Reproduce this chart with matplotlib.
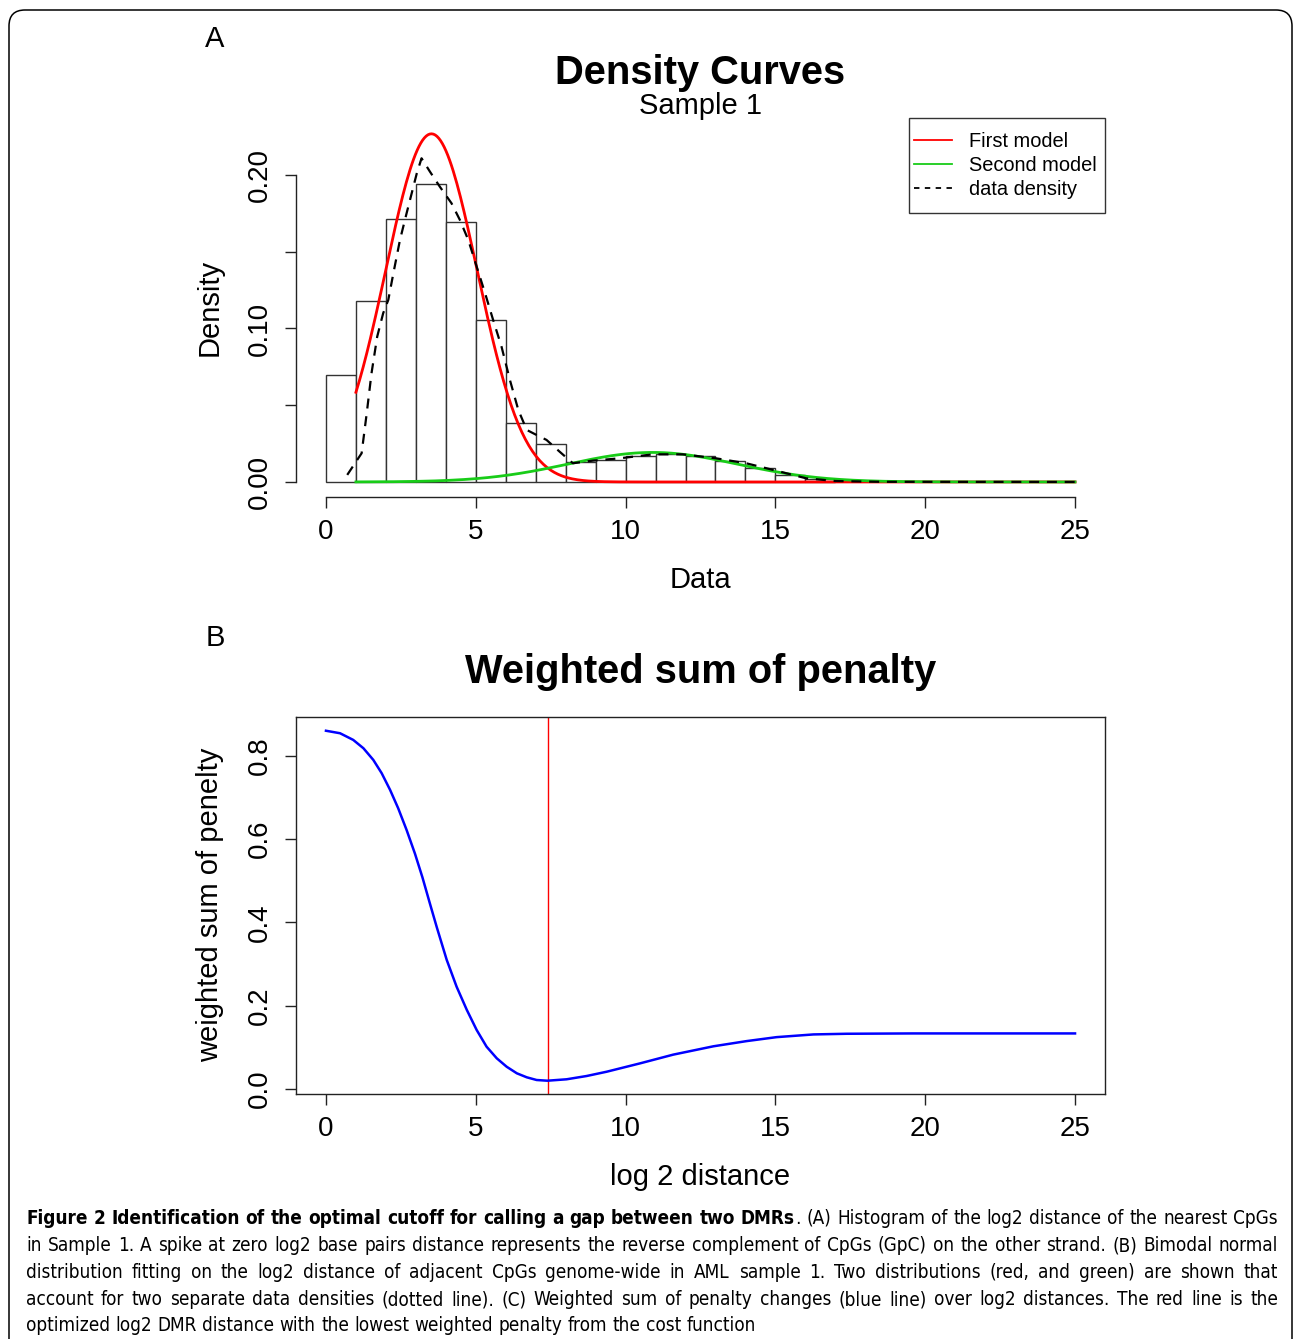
import matplotlib
matplotlib.use('Agg')
import matplotlib.pyplot as plt
from matplotlib.patches import FancyBboxPatch, Rectangle
from matplotlib.transforms import IdentityTransform
from matplotlib.lines import Line2D
import numpy as np

plt.rcParams['font.family'] = ['Liberation Sans', 'DejaVu Sans']

# ---- panel A: histogram of log2 distances (bin width 1) ----
hist_left = list(range(0, 17))
hist_density = [0.0697, 0.118, 0.1715, 0.194, 0.1696, 0.1055, 0.0386, 0.0246,
                0.013, 0.0146, 0.0168, 0.0184, 0.0169, 0.0135, 0.0089, 0.0048, 0.0018]

# fitted normal components: weight, mean, sd
first_model = (0.870, 3.52, 1.53)
second_model = (0.136, 10.9, 2.82)
model_x_range = (1, 25)

# kernel density of the data (dashed line)
dens_x = [0.71, 1.19, 1.36, 1.52, 1.71, 1.91, 2.08, 2.25, 2.47, 2.69, 2.86, 3.03, 3.19,
          3.47, 3.80, 4.19, 4.47, 4.75, 5.03, 5.31, 5.58, 5.86, 6.14, 6.42, 6.70, 7.03,
          7.36, 7.8, 8.24, 8.91, 9.8, 10.91, 11.91, 13.02, 14.02, 15.02, 16.02, 17.0,
          18.5, 25.0]
dens_y = [0.0046, 0.0187, 0.0447, 0.0708, 0.0947, 0.110, 0.1186, 0.136, 0.1577, 0.175,
          0.188, 0.201, 0.2109, 0.2022, 0.1924, 0.1816, 0.1707, 0.1577, 0.1403, 0.123,
          0.1055, 0.0881, 0.0664, 0.0469, 0.0339, 0.0306, 0.0274, 0.0197, 0.0122,
          0.0139, 0.0154, 0.018, 0.018, 0.0154, 0.0122, 0.0074, 0.0024, 0.0006,
          0.0001, 0.0]

# ---- panel B: weighted sum of penalty ----
pen_x = [0, 0.47, 0.91, 1.25, 1.58, 1.86, 2.14, 2.41, 2.69, 2.97, 3.22, 3.47, 3.70,
         4.03, 4.36, 4.70, 5.03, 5.36, 5.70, 6.03, 6.37, 6.70, 7.03, 7.39, 8.03, 8.70,
         9.37, 10.48, 11.59, 12.93, 14.04, 15.04, 16.27, 17.38, 19.6, 25]
pen_y = [0.860, 0.854, 0.838, 0.818, 0.790, 0.758, 0.718, 0.674, 0.622, 0.565, 0.508,
         0.445, 0.388, 0.310, 0.2456, 0.190, 0.1416, 0.1016, 0.0737, 0.0535, 0.0377,
         0.0281, 0.0216, 0.0199, 0.0233, 0.0312, 0.0415, 0.0615, 0.0825, 0.1025,
         0.115, 0.1245, 0.131, 0.1326, 0.1334, 0.1334]
cutoff = 7.4

caption_lines = [
    [("Figure 2 Identification of the optimal cutoff for calling a gap between two DMRs", True),
     (". (A) Histogram of the log2 distance of the nearest CpGs", False)],
    [("in Sample 1. A spike at zero log2 base pairs distance represents the reverse complement "
      "of CpGs (GpC) on the other strand. (B) Bimodal normal", False)],
    [("distribution fitting on the log2 distance of adjacent CpGs genome-wide in AML sample 1. "
      "Two distributions (red, and green) are shown that", False)],
    [("account for two separate data densities (dotted line). (C) Weighted sum of penalty "
      "changes (blue line) over log2 distances. The red line is the", False)],
    [("optimized log2 DMR distance with the lowest weighted penalty from the cost function", False)],
]

W, H = 1293, 1339
fig = plt.figure(figsize=(W / 100, H / 100), dpi=100)


def fx(px):
    return px / W


def fy(py):
    return 1 - py / H


AX_COL = '#222222'
TICK_FS = 20
LABEL_FS = 21
TITLE_FS = 28.7

# outer rounded frame
frame = FancyBboxPatch((9, -30), 1283, H - 10 + 30, boxstyle='round,pad=0,rounding_size=16',
                       transform=IdentityTransform(), fill=False, lw=1.1, ec='black')
fig.patches.append(frame)

# ---------------- panel A ----------------
axA = fig.add_axes([fx(296), fy(497), fx(1105) - fx(296), fy(119) - fy(497)])
axA.bar(hist_left, hist_density, width=1, align='edge', color='white',
        edgecolor='#333333', lw=1.0, zorder=1)

xm = np.linspace(model_x_range[0], model_x_range[1], 400)


def normal_curve(params):
    w, mu, sd = params
    return w * np.exp(-(xm - mu) ** 2 / (2 * sd ** 2)) / (sd * np.sqrt(2 * np.pi))


axA.plot(xm, normal_curve(first_model), color='#FF0000', lw=2.0, zorder=3)
axA.plot(xm, normal_curve(second_model), color='#18CC18', lw=2.0, zorder=3)
axA.plot(dens_x, dens_y, color='black', lw=1.6, ls=(0, (4.5, 3.5)), zorder=4)

axA.set_xlim(-1, 26)
axA.set_ylim(-0.0098, 0.2365)
for s in ['top', 'right']:
    axA.spines[s].set_visible(False)
axA.spines['bottom'].set_bounds(0, 25)
axA.spines['left'].set_bounds(0, 0.2)
for s in ['bottom', 'left']:
    axA.spines[s].set_color(AX_COL)
    axA.spines[s].set_linewidth(1.0)
axA.set_xticks([0, 5, 10, 15, 20, 25])
axA.set_yticks([0, 0.05, 0.10, 0.15, 0.20])
axA.set_yticklabels(['0.00', '', '0.10', '', '0.20'])
axA.tick_params(direction='out', length=8, width=1.0, color=AX_COL,
                labelsize=TICK_FS, pad=8)
axA.tick_params(axis='y', labelrotation=90, pad=9)
for lab in axA.get_yticklabels():
    lab.set_va('center')

# legend: frame drawn separately so the R-style padding can be matched
fig.patches.append(Rectangle((fx(909), fy(213)), fx(1105) - fx(909), fy(118) - fy(213),
                             transform=fig.transFigure, fill=False,
                             ec='#333333', lw=1.0))
handles = [Line2D([], [], color='#FF0000', lw=1.3),
           Line2D([], [], color='#18CC18', lw=1.3),
           Line2D([], [], color='black', lw=1.3, ls=(0, (3, 3)))]
leg = axA.legend(handles, ['First model', 'Second model', 'data density'],
                 loc='upper left', bbox_to_anchor=(fx(914), fy(132)),
                 bbox_transform=fig.transFigure, fontsize=14.4, frameon=False,
                 handlelength=1.9, handletextpad=0.85, labelspacing=0.25,
                 borderpad=0, borderaxespad=0)

fig.text(fx(215), fy(47), 'A', fontsize=LABEL_FS, ha='center', va='baseline')
fig.text(fx(700.5), fy(84), 'Density Curves', fontsize=TITLE_FS, fontweight='bold',
         ha='center', va='baseline')
fig.text(fx(700.5), fy(114), 'Sample 1', fontsize=LABEL_FS, ha='center', va='baseline')
fig.text(fx(700.5), fy(588), 'Data', fontsize=LABEL_FS, ha='center', va='baseline')
fig.text(fx(210), fy(307), 'Density', fontsize=LABEL_FS, rotation=90,
         ha='center', va='center')

# ---------------- panel B ----------------
axB = fig.add_axes([fx(296), fy(1094), fx(1105) - fx(296), fy(717) - fy(1094)])
axB.plot(pen_x, pen_y, color='#0000FF', lw=1.8, zorder=3)
axB.axvline(cutoff, color='#FF0000', lw=1.0, zorder=2)
axB.set_xlim(-1, 26)
axB.set_ylim(-0.012, 0.893)
for s in axB.spines.values():
    s.set_color(AX_COL)
    s.set_linewidth(1.0)
axB.set_xticks([0, 5, 10, 15, 20, 25])
axB.set_yticks([0, 0.2, 0.4, 0.6, 0.8])
axB.set_yticklabels(['0.0', '0.2', '0.4', '0.6', '0.8'])
axB.tick_params(direction='out', length=8, width=1.0, color=AX_COL,
                labelsize=TICK_FS, pad=8)
axB.tick_params(axis='y', labelrotation=90, pad=9)
for lab in axB.get_yticklabels():
    lab.set_va('center')

fig.text(fx(215), fy(646), 'B', fontsize=LABEL_FS, ha='center', va='baseline')
fig.text(fx(700.5), fy(683), 'Weighted sum of penalty', fontsize=TITLE_FS,
         fontweight='bold', ha='center', va='baseline')
fig.text(fx(700.5), fy(1185), 'log 2 distance', fontsize=LABEL_FS,
         ha='center', va='baseline')
fig.text(fx(210), fy(905), 'weighted sum of penelty', fontsize=LABEL_FS,
         rotation=90, ha='center', va='center')

# ---------------- caption, justified ----------------
CAP_FONT = ['DejaVu Sans']
CAP_STRETCH = 'condensed'
cap_left, cap_right = 26, 1278
cap_base = [1224, 1251, 1278, 1305, 1331]
renderer = fig.canvas.get_renderer()


def text_width(s, bold, size):
    t = fig.text(0, 0, s, fontsize=size, family=CAP_FONT, fontstretch=CAP_STRETCH,
                 fontweight='bold' if bold else 'normal')
    w = t.get_window_extent(renderer).width
    t.remove()
    return w


def tokens_of(line):
    toks = []
    for si, (seg, bold) in enumerate(line):
        for wi, word in enumerate(seg.split(' ')):
            gap = not (wi == 0 and si > 0)
            toks.append((word, bold, gap))
    return toks


def measure(size):
    sp = text_width('a a', False, size) - text_width('aa', False, size)
    out = []
    for line in caption_lines:
        toks = tokens_of(line)
        widths = [text_width(w, b, size) for w, b, g in toks]
        out.append((toks, widths))
    return sp, out


cap_size = 14.2
sp, measured = measure(cap_size)
widest = max(sum(ws) + sp * (sum(g for _, _, g in tk) - 1) for tk, ws in measured[:-1])
if widest > 0.99 * (cap_right - cap_left):
    cap_size *= 0.99 * (cap_right - cap_left) / widest
    sp, measured = measure(cap_size)

for li, (toks, widths) in enumerate(measured):
    ngaps = sum(1 for i, (_, _, g) in enumerate(toks) if g and i > 0)
    if li < len(measured) - 1:
        gap_w = (cap_right - cap_left - sum(widths)) / ngaps
    else:
        gap_w = sp
    x = cap_left
    for i, ((word, bold, g), w) in enumerate(zip(toks, widths)):
        if i > 0 and g:
            x += gap_w
        fig.text(fx(x), fy(cap_base[li]), word, fontsize=cap_size, family=CAP_FONT,
                 fontstretch=CAP_STRETCH, fontweight='bold' if bold else 'normal',
                 ha='left', va='baseline')
        x += w

fig.savefig('out.png', dpi=100)
